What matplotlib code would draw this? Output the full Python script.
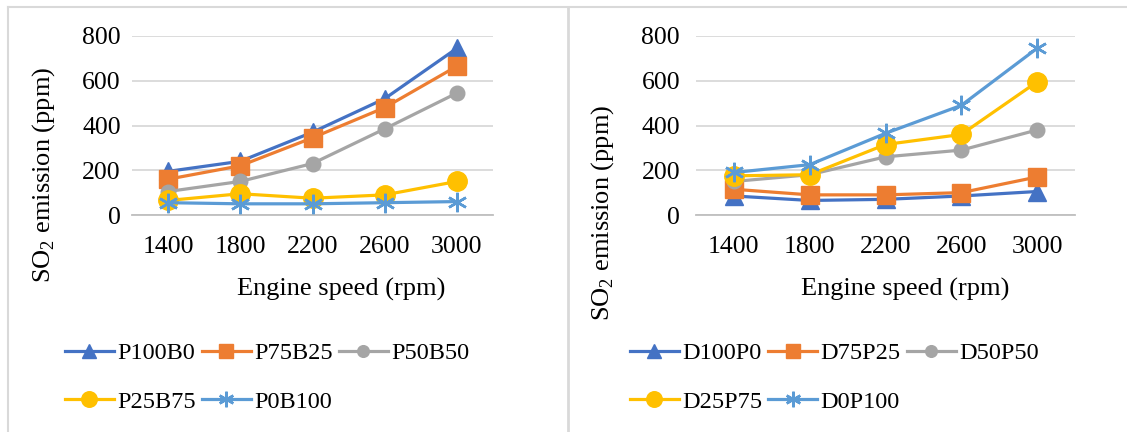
import matplotlib
matplotlib.use("Agg")
import matplotlib.pyplot as plt
from matplotlib.lines import Line2D

plt.rcParams["font.family"] = ["Liberation Serif", "DejaVu Serif"]
plt.rcParams["mathtext.fontset"] = "custom"
plt.rcParams["mathtext.rm"] = "Liberation Serif"

speeds = ["1400", "1800", "2200", "2600", "3000"]

left_labels = ["P100B0", "P75B25", "P50B50", "P25B75", "P0B100"]
left_values = [
    [195, 240, 370, 520, 745],
    [160, 220, 345, 480, 665],
    [105, 150, 230, 385, 545],
    [65, 95, 75, 90, 150],
    [55, 50, 50, 55, 60],
]

right_labels = ["D100P0", "D75P25", "D50P50", "D25P75", "D0P100"]
right_values = [
    [85, 65, 70, 85, 105],
    [115, 90, 90, 100, 170],
    [150, 180, 260, 290, 380],
    [175, 180, 315, 360, 595],
    [190, 225, 365, 490, 745],
]

colors = ["#4472C4", "#ED7D31", "#A5A5A5", "#FFC000", "#5B9BD5"]
markers = ["^", "s", "o", "o", (6, 2, 0)]
msizes = [13, 13, 10.5, 14, 14]

W, H = 1127, 432
fig = plt.figure(figsize=(W / 100, H / 100), dpi=100)

# panel frames
border = "#d9d9d9"
fig.add_artist(Line2D([8 / W, 1], [1 - 7 / H] * 2, color=border, lw=1.5))
fig.add_artist(Line2D([8 / W] * 2, [0, 1 - 7 / H], color=border, lw=1.5))
fig.add_artist(Line2D([568 / W] * 2, [0, 1 - 7 / H], color=border, lw=2))


def panel(rect, labels, values, ylab_xy, xlab_xy, leg_xy, ypad):
    ax = fig.add_axes(rect)
    x = range(len(speeds))
    for lab, vals, c, m, ms in zip(labels, values, colors, markers, msizes):
        ax.plot(x, vals, color=c, lw=2.3, marker=m, ms=ms, mfc=c, mec=c,
                mew=1.0 if m != (6, 2, 0) else 1.8, label=lab, zorder=3)
    ax.set_xlim(-0.5, len(speeds) - 0.5)
    ax.set_ylim(0, 800)
    ax.set_yticks([0, 200, 400, 600, 800])
    ax.set_xticks(list(x))
    ax.set_xticklabels(speeds)
    ax.grid(axis="y", color="#d9d9d9", lw=1.3)
    ax.set_axisbelow(True)
    for s in ["top", "right", "left"]:
        ax.spines[s].set_visible(False)
    ax.spines["bottom"].set_color("#bfbfbf")
    ax.spines["bottom"].set_linewidth(1.3)
    ax.tick_params(length=0, labelsize=18.5)
    ax.tick_params(axis="x", pad=15)
    ax.tick_params(axis="y", pad=ypad)
    fig.text(ylab_xy[0] / W, 1 - ylab_xy[1] / H, "SO$_2$ emission (ppm)",
             rotation=90, ha="center", va="center", fontsize=19)
    fig.text(xlab_xy[0] / W, 1 - xlab_xy[1] / H, "Engine speed (rpm)",
             ha="center", va="center", fontsize=19)
    h, l = ax.get_legend_handles_labels()
    order = [0, 3, 1, 4, 2]  # row-major fill for 3 columns
    fig.legend([h[i] for i in order], [l[i] for i in order], loc="upper left",
               bbox_to_anchor=(leg_xy[0] / W, 1 - leg_xy[1] / H),
               ncols=3, frameon=False, fontsize=17.5, handlelength=2.0,
               handletextpad=0.15, columnspacing=0.25, labelspacing=1.1,
               markerscale=0.8, borderpad=0, borderaxespad=0)
    return ax


panel([132 / W, 217 / H, 361 / W, 179 / H], left_labels, left_values,
      (44, 175), (341, 289), (65, 342), 8)
panel([696 / W, 217 / H, 379 / W, 179 / H], right_labels, right_values,
      (603, 213), (905, 289), (630, 342), 11.5)

fig.savefig("out.png", dpi=100)
